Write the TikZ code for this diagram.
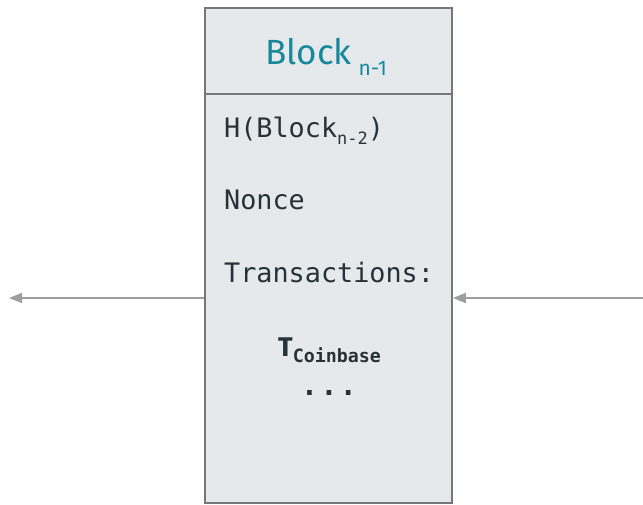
\documentclass[tikz,border=0pt]{standalone}
\usepackage{fontspec}
\setmainfont{Fira Sans}
\newfontfamily\codefont{DejaVu Sans Mono}
\usetikzlibrary{arrows.meta}
\definecolor{boxfill}{HTML}{E6E9EC}
\definecolor{boxline}{HTML}{777777}
\definecolor{titleteal}{HTML}{17879C}
\definecolor{inktext}{HTML}{263238}
\definecolor{arrowgrey}{HTML}{9E9E9E}
\tikzset{
  x=1pt, y=1pt,
  blockbox/.style={draw=boxline, fill=boxfill, line width=1.8pt, rectangle,
    minimum width=247pt, minimum height=495pt, inner sep=0pt},
  fieldtext/.style={anchor=base west, inner sep=0pt, text=inktext,
    font=\codefont\fontsize{26.8}{32}\selectfont},
  linkarrow/.style={draw=arrowgrey, line width=1.8pt,
    -{Triangle[length=13pt,width=10pt]}},
}
\begin{document}
\begin{tikzpicture}
\useasboundingbox (0,0) rectangle (643,504);
% the block
\node[blockbox] (blk) at (328.5,248.5) {};
\coordinate (hdl) at (205,410);
\coordinate (hdr) at (452,410);
\draw[draw=boxline, line width=1.8pt] (hdl) -- (hdr);
% header title
\node[anchor=base west, inner sep=0pt, text=titleteal,
  font=\fontsize{35}{40}\selectfont] (title) at (265,439)
  {Block\hspace{7pt}\raisebox{-11pt}{\fontsize{21}{24}\selectfont n-1}};
% fields
\node[fieldtext] (hash) at (224,366)
  {H(Block\raisebox{-7pt}{\fontsize{17}{20}\selectfont n-2})};
\node[fieldtext] (nonce) at (224,294) {Nonce};
\node[fieldtext] (tx) at (224,221) {Transactions:};
\node[anchor=base west, inner sep=0pt, text=inktext] (coinbase) at (278,147)
  {\fontsize{27}{32}\selectfont\bfseries T\raisebox{-6pt}{\codefont\bfseries\fontsize{18.3}{22}\selectfont Coinbase}};
\node[anchor=base, inner sep=0pt, text=inktext,
  font=\codefont\bfseries\fontsize{28}{32}\selectfont] (more) at (329,109)
  {.\hspace{2.5pt}.\hspace{2.5pt}.};
% links to neighbouring blocks
\coordinate (lend) at (9,206);
\coordinate (rend) at (643,206);
\draw[linkarrow] (blk.west |- lend) -- (lend);
\draw[linkarrow] (rend) -- (blk.east |- rend);
\end{tikzpicture}
\end{document}
